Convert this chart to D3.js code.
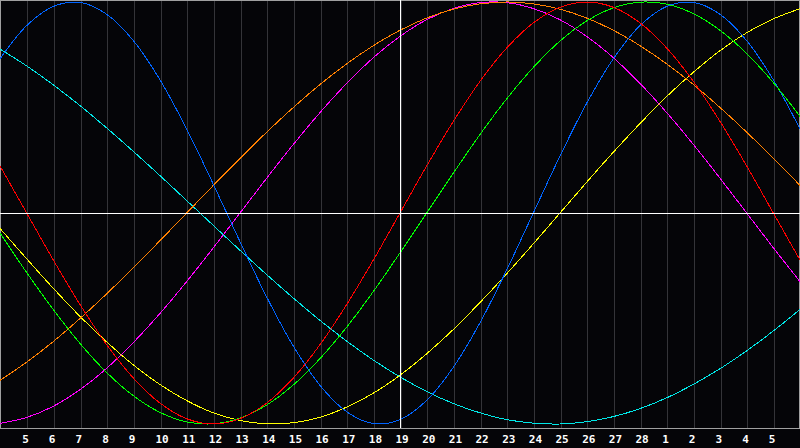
<!DOCTYPE html>
<html>
<head>
<meta charset="utf-8">
<script src="https://cdn.jsdelivr.net/npm/d3@7"></script>
<style>
  html, body { margin: 0; padding: 0; background: #050508; }
  svg { display: block; }
</style>
</head>
<body>
<div id="chart"></div>
<script>
// day labels along the bottom (gridline 1..29)
var dayLabels = [5, 6, 7, 8, 9, 10, 11, 12, 13, 14, 15, 16, 17, 18, 19, 20,
  21, 22, 23, 24, 25, 26, 27, 28, 1, 2, 3, 4, 5];

// one value per day column, 0..30
var physical = [0.731, 0.888, 0.979, 0.998, 0.942, 0.817, 0.631, 0.398, 0.136, -0.136,
  -0.398, -0.631, -0.817, -0.942, -0.998, -0.979, -0.888, -0.731, -0.520, -0.270,
  0, 0.270, 0.520, 0.731, 0.888, 0.979, 0.998, 0.942, 0.817, 0.631, 0.398];
var emotional = [0.223, 0, -0.223, -0.434, -0.624, -0.782, -0.901, -0.975, -1, -0.975,
  -0.901, -0.782, -0.624, -0.434, -0.223, 0, 0.223, 0.434, 0.624, 0.782,
  0.901, 0.975, 1, 0.975, 0.901, 0.782, 0.624, 0.434, 0.223, 0, -0.223];
var intellectual = [-0.095, -0.282, -0.458, -0.618, -0.756, -0.866, -0.945, -0.990, -0.999, -0.972,
  -0.910, -0.815, -0.690, -0.541, -0.372, -0.189, 0, 0.189, 0.372, 0.541,
  0.690, 0.815, 0.910, 0.972, 0.999, 0.990, 0.945, 0.866, 0.756, 0.618, 0.458];
var intuitive = [-0.997, -0.969, -0.916, -0.837, -0.736, -0.614, -0.476, -0.325, -0.165, 0,
  0.165, 0.325, 0.476, 0.614, 0.736, 0.837, 0.916, 0.969, 0.997, 0.997,
  0.969, 0.916, 0.837, 0.736, 0.614, 0.476, 0.325, 0.165, 0, -0.165, -0.325];
var aesthetic = [-0.073, -0.217, -0.357, -0.490, -0.611, -0.720, -0.813, -0.889, -0.947, -0.983,
  -0.999, -0.994, -0.968, -0.920, -0.854, -0.769, -0.667, -0.552, -0.424, -0.288,
  -0.146, 0, 0.146, 0.288, 0.424, 0.552, 0.667, 0.769, 0.854, 0.920, 0.968];
var awareness = [-0.793, -0.707, -0.609, -0.500, -0.383, -0.259, -0.131, 0, 0.131, 0.259,
  0.383, 0.500, 0.609, 0.707, 0.793, 0.866, 0.924, 0.966, 0.991, 1,
  0.991, 0.966, 0.924, 0.866, 0.793, 0.707, 0.609, 0.500, 0.383, 0.259, 0.131];
var spiritual = [0.777, 0.697, 0.607, 0.509, 0.403, 0.292, 0.177, 0.059, -0.059, -0.177,
  -0.292, -0.403, -0.509, -0.607, -0.697, -0.777, -0.846, -0.903, -0.947, -0.979,
  -0.996, -1.000, -0.989, -0.965, -0.927, -0.876, -0.812, -0.738, -0.653, -0.559, -0.457];

var series = [
  { name: "spiritual", values: spiritual, color: "#00e8e8" },
  { name: "aesthetic", values: aesthetic, color: "#ffff00" },
  { name: "intuitive", values: intuitive, color: "#ff00ff" },
  { name: "awareness", values: awareness, color: "#ff8000" },
  { name: "physical", values: physical, color: "#0064ff" },
  { name: "intellectual", values: intellectual, color: "#00ff00" },
  { name: "emotional", values: emotional, color: "#ff0000" }
];

var width = 800, height = 448;
var plotBottom = 428;

var svg = d3.select("#chart")
  .append("svg")
    .attr("width", width)
    .attr("height", height)
    .style("background", "#050508");

var x = d3.scaleLinear().domain([0, 30]).range([0, width]);
var y = d3.scaleLinear().domain([-1, 1]).range([424, 2]);

// vertical day gridlines + labels
var xAxis = d3.axisBottom(x)
  .tickValues(d3.range(1, 30))
  .tickFormat(function (i) { return dayLabels[i - 1]; })
  .tickSize(plotBottom)
  .tickPadding(7);

var g = svg.append("g")
  .attr("transform", "translate(0.5,0)")
  .call(xAxis);
g.select(".domain").remove();
g.selectAll(".tick line")
  .attr("stroke", "#343438")
  .attr("shape-rendering", "crispEdges");
g.selectAll(".tick text")
  .attr("fill", "#ffffff")
  .attr("text-anchor", "start")
  .attr("dx", "-5.5")
  .style("font-family", "'DejaVu Sans Mono', monospace")
  .style("font-weight", "bold")
  .style("font-size", "11px");

// frame
svg.append("rect")
  .attr("x", 0.5)
  .attr("y", 0.5)
  .attr("width", width - 1)
  .attr("height", plotBottom)
  .attr("fill", "none")
  .attr("stroke", "#a0a0a0")
  .attr("shape-rendering", "crispEdges");

// curves
var line = d3.line()
  .x(function (d, i) { return x(i); })
  .y(function (d) { return y(d); })
  .curve(d3.curveCatmullRom);

svg.selectAll(".cycle")
  .data(series)
  .enter()
  .append("path")
    .attr("class", "cycle")
    .attr("d", function (d) { return line(d.values); })
    .attr("fill", "none")
    .attr("stroke", function (d) { return d.color; })
    .attr("stroke-width", 1)
    .attr("shape-rendering", "crispEdges");

// today marker and zero line
svg.append("line")
  .attr("x1", 0).attr("x2", width)
  .attr("y1", y(0) + 0.5).attr("y2", y(0) + 0.5)
  .attr("stroke", "#ffffff")
  .attr("shape-rendering", "crispEdges");
svg.append("line")
  .attr("x1", x(15) + 0.5).attr("x2", x(15) + 0.5)
  .attr("y1", 0).attr("y2", plotBottom)
  .attr("stroke", "#ffffff")
  .attr("shape-rendering", "crispEdges");
</script>
</body>
</html>
